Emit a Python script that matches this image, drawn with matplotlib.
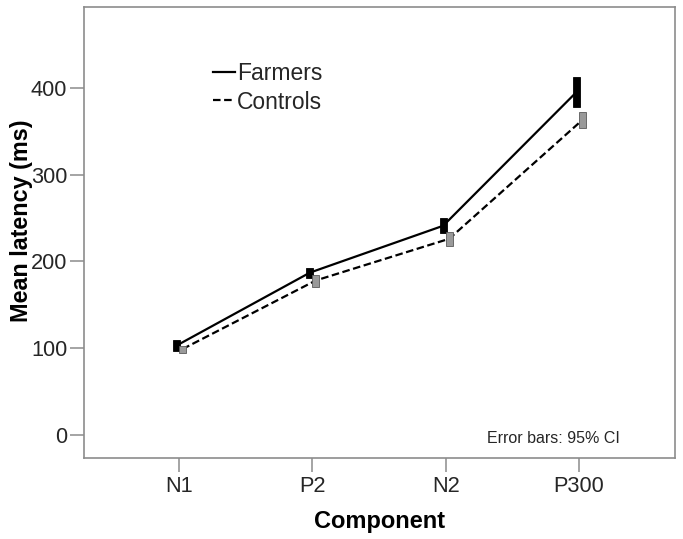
import matplotlib

matplotlib.use("Agg")
import matplotlib.pyplot as plt  # noqa: E402
import numpy as np  # noqa: E402

plt.rcParams["font.family"] = ["Liberation Sans", "DejaVu Sans"]

components = ["N1", "P2", "N2", "P300"]
farmers_mean = [103, 187, 241, 395]
farmers_lo = [97, 181, 233, 378]
farmers_hi = [109.5, 192.5, 250, 412.5]
controls_mean = [99, 178, 226, 363]
controls_lo = [94.5, 171, 218, 354]
controls_hi = [102.6, 184, 234, 372]
yticks = [0, 100, 200, 300, 400]

SPINE = "#8c8c8c"
TEXT = "#262626"

fig = plt.figure(figsize=(6.83, 5.39), dpi=100)
ax = fig.add_axes([84 / 683, 81 / 539, 591 / 683, 451 / 539])

x = np.arange(len(components))
xf = x - 0.019
xc = x + 0.026

ax.plot(xf, farmers_mean, color="black", lw=1.6, label="Farmers", zorder=2)
ax.plot(xc, controls_mean, color="black", lw=1.6, ls=(0, (3.4, 1.6)),
        label="Controls", zorder=2)

# 95% CI drawn as thin filled boxes
bw = 0.052
ax.bar(xf, np.subtract(farmers_hi, farmers_lo), bottom=farmers_lo, width=bw,
       color="black", edgecolor="black", lw=0.6, zorder=3)
ax.bar(xc, np.subtract(controls_hi, controls_lo), bottom=controls_lo, width=bw,
       color="#9a9a9a", edgecolor="#5a5a5a", lw=0.6, zorder=3)

ax.set_xlim(-0.713, 3.72)
ax.set_ylim(-26.5, 493)
ax.set_xticks(x)
ax.set_xticklabels(components)
ax.set_yticks(yticks)

for s in ax.spines.values():
    s.set_color(SPINE)
    s.set_linewidth(1.2)
ax.tick_params(axis="both", direction="out", length=10, width=1.1, color=SPINE,
               labelsize=15.7, labelcolor=TEXT)
ax.tick_params(axis="x", pad=3.2)
ax.tick_params(axis="y", pad=2)

ax.set_ylabel("Mean latency (ms)", fontsize=16.8, fontweight="bold",
              ha="center", va="center")
ax.yaxis.set_label_coords(-0.105, 0.527)
ax.set_xlabel("Component", fontsize=17, fontweight="bold", va="center")
ax.xaxis.set_label_coords(0.5, -0.1397)

ax.text(0.907, 0.044, "Error bars: 95% CI", transform=ax.transAxes,
        ha="right", va="center", fontsize=11.5, color=TEXT)

ax.legend(loc="upper left", bbox_to_anchor=(0.218, 0.877), frameon=False,
          fontsize=16.5, handlelength=0.96, handletextpad=0.1, labelspacing=0.22,
          borderpad=0, borderaxespad=0, labelcolor=TEXT)

fig.savefig("out.png", facecolor="white")
plt.close(fig)
